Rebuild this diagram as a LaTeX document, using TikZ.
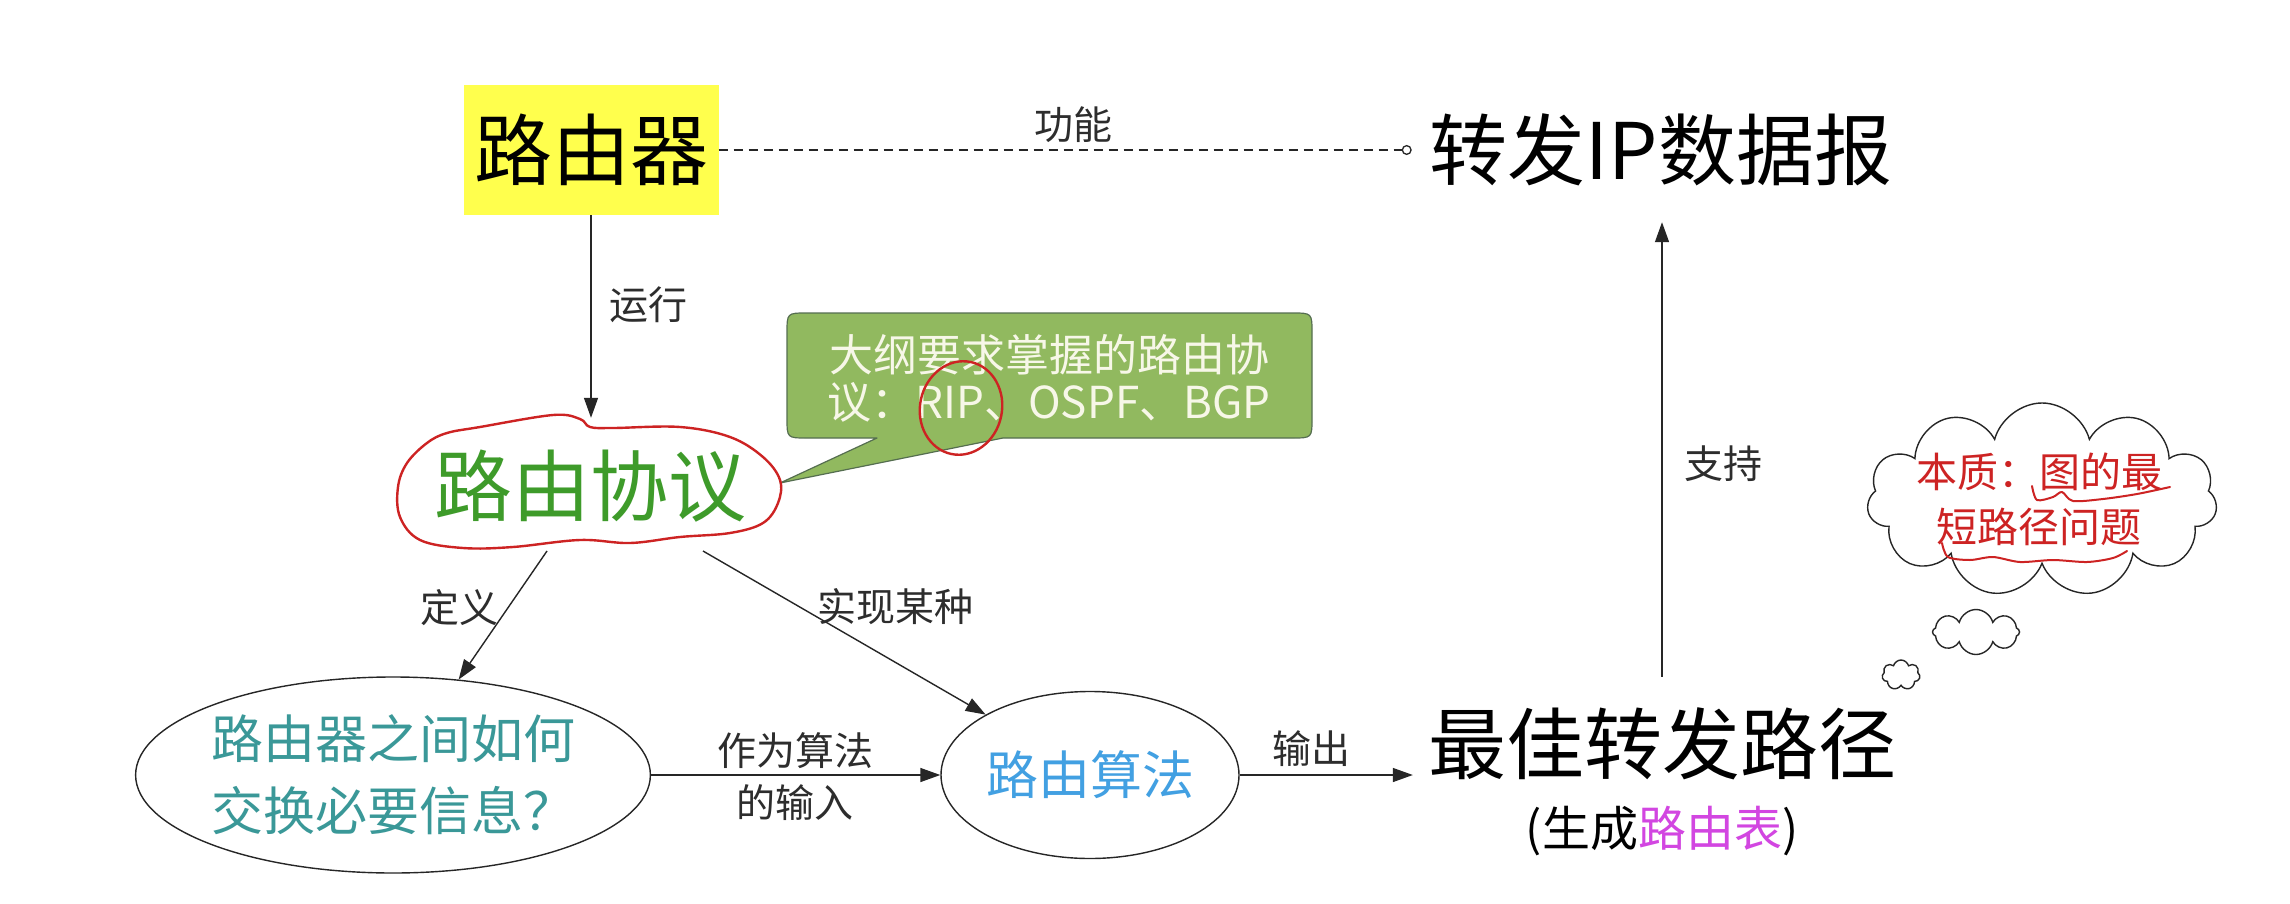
\documentclass[tikz,border=0pt]{standalone}
\usepackage{fontspec}
\setmainfont{Noto Sans CJK SC}
\usetikzlibrary{arrows.meta,shapes.geometric,shapes.symbols,calc}
\definecolor{ryellow}{RGB}{255,255,77}
\definecolor{pgreen}{RGB}{62,155,42}
\definecolor{pen}{RGB}{205,35,35}
\definecolor{bubfill}{RGB}{145,185,95}
\definecolor{bubline}{RGB}{85,110,80}
\definecolor{bubtext}{RGB}{247,247,232}
\definecolor{pteal}{RGB}{58,152,152}
\definecolor{pblue}{RGB}{66,160,226}
\definecolor{pmag}{RGB}{210,70,225}
\definecolor{lblgray}{RGB}{45,45,45}
\begin{document}
\begin{tikzpicture}[x=1pt,y=-1pt,
  bigtxt/.style={font=\fontsize{78}{90}\selectfont},
  conn/.style={line width=1.4pt, draw=black!85},
  arr/.style={conn,-{Triangle[length=20pt,width=14pt]}},
  lbl/.style={font=\fontsize{39}{45}\selectfont, text=lblgray, inner sep=0pt},
  redpen/.style={draw=pen, line width=2.4pt, line join=round, line cap=round},
  cloudbox/.style={cloud, draw=black!85, line width=1.4pt, inner sep=0pt, fill=white}
]
\fill[white] (0,0) rectangle (2290,904);
\useasboundingbox (0,0) rectangle (2290,904);

% callout bubble
\fill[bubfill, draw=bubline, line width=1.2pt, line join=round]
  (877,438) -- (807,438) .. controls (787,438) .. (787,418) -- (787,333)
  .. controls (787,313) .. (807,313) -- (1292,313) .. controls (1312,313) .. (1312,333)
  -- (1312,418) .. controls (1312,438) .. (1292,438) -- (1003,438) -- (780,483) -- cycle;
\node[font=\fontsize{44}{47}\selectfont, text=bubtext, align=center, inner sep=0pt]
  (note) at (1049,378) {大纲要求掌握的路由协\\议：RIP、OSPF、BGP};
\draw[redpen] (961,408) ellipse [x radius=41, y radius=47, rotate=-12];

% nodes
\node[bigtxt, fill=ryellow, minimum width=255pt, minimum height=130pt, inner sep=0pt]
  (router) at (591,150) {路由器};
\node[bigtxt, inner xsep=18pt, inner ysep=0pt, minimum height=144pt]
  (dest) at (1661,150) {转发IP数据报};
\node[bigtxt, text=pgreen, inner sep=0pt, minimum width=384pt, minimum height=136pt]
  (proto) at (590,486) {路由协议};
\draw[redpen] plot[smooth cycle, tension=0.6] coordinates {
  (590,427) (613,428) (680,427) (730,437) (763,457) (780,480) (778,503) (763,523)
  (730,533) (680,537) (630,543) (580,540) (513,547) (463,548) (420,540) (400,517)
  (398,487) (407,463) (427,443) (447,433) (480,427) (553,415) (580,419)};
\node[ellipse, draw=black!85, line width=1.4pt, minimum width=510pt, minimum height=196pt,
  inner sep=0pt, text=pteal, font=\fontsize{52}{72}\selectfont, align=left]
  (info) at (393,775) {路由器之间如何\\交换必要信息？};
\node[ellipse, draw=black!85, line width=1.4pt, minimum width=298pt, minimum height=167pt,
  inner sep=0pt, text=pblue, font=\fontsize{52}{60}\selectfont]
  (algo) at (1090,775) {路由算法};
\node[bigtxt, inner xsep=15pt, inner ysep=0pt, minimum height=134pt]
  (best) at (1662,744) {最佳转发路径};
\node[font=\fontsize{48}{56}\selectfont, inner sep=0pt]
  (sub) at (1662,831) {(生成\textcolor{pmag}{路由表})};

% connector start points on the hand-drawn outline
\coordinate (pL) at (547,551);
\coordinate (pR) at (703,551);

% connectors
\draw[conn, line width=1.3pt, dash pattern=on 9pt off 6pt,
  -{Circle[open,length=10pt,width=10pt,fill=white]}] (router.east) -- (dest.west);
\draw[arr] (router.south) -- (router.south |- proto.north);
\draw[arr] (pL) -- (info);
\draw[arr] (pR) -- (algo);
\draw[arr] (info.east) -- (algo.west);
\draw[arr] (algo.east) -- (algo.east -| best.west);
\draw[arr] (best.north) -- (best.north |- dest.south);

% labels
\node[lbl] (lgn) at (1073,125) {功能};
\node[lbl] (lyx) at (648,305) {运行};
\node[lbl] (ldy) at (459,608) {定义};
\node[lbl] (lsx) at (895,607) {实现某种};
\node[lbl] (lzw) at (795,751) {作为算法};
\node[lbl] (lsr) at (795,803) {的输入};
\node[lbl] (lsc) at (1311,749) {输出};
\node[lbl] (lzc) at (1723,464) {支持};

% thought cloud
\node[cloudbox, cloud puffs=11, aspect=1.8, minimum width=350pt, minimum height=194pt]
  (cl) at (2042,500) {};
\node[cloudbox, cloud puffs=8, aspect=1.9, minimum width=87pt, minimum height=45pt]
  (cl2) at (1976,632) {};
\node[cloudbox, cloud puffs=7, aspect=1.3, minimum width=38pt, minimum height=30pt]
  (cl3) at (1901,675) {};
\node[font=\fontsize{41}{55}\selectfont, text=pen, align=center, inner sep=0pt]
  (tt) at (2039,499) {本质：图的最\\短路径问题};
\draw[redpen, line width=2pt] plot[smooth] coordinates {
  (2032,486) (2037,500) (2053,497) (2062,492) (2073,501) (2103,499) (2137,494) (2170,487)};
\draw[redpen, line width=2pt] plot[smooth] coordinates {
  (1942,543) (1948,557) (1970,560) (1993,557) (2020,562) (2053,560) (2087,562) (2113,558) (2127,551)};
\end{tikzpicture}
\end{document}
